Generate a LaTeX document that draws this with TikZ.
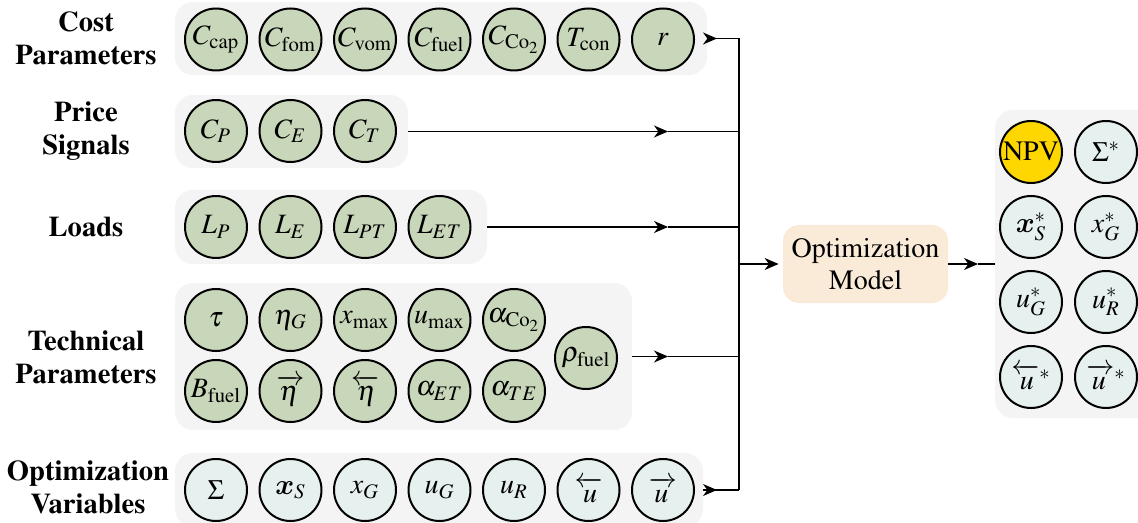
\documentclass[tikz,border=0pt]{standalone}
\usepackage[T1]{fontenc}
\usepackage{amsmath}
\usepackage{mathptmx}
\usetikzlibrary{arrows.meta}
\definecolor{paramgreen}{RGB}{200,214,185}
\definecolor{varblue}{RGB}{230,240,238}
\definecolor{groupgray}{RGB}{244,244,244}
\definecolor{modelorange}{RGB}{249,235,216}
\definecolor{npvgold}{RGB}{255,215,0}
\newcommand{\bxs}{\mbox{\usefont{OML}{cmm}{b}{it}x}}
\newcommand{\rar}[1]{\overrightarrow{\vphantom{t}#1\,}}
\newcommand{\lar}[1]{\overleftarrow{\vphantom{t}\,#1}}
\tikzset{
  groupbox/.style={fill=groupgray,draw=none,rounded corners=9pt,inner sep=0pt},
  pcirc/.style={circle,draw=black,line width=1pt,fill=paramgreen,minimum size=31pt,inner sep=0pt,font=\fontsize{14}{16}\selectfont},
  vcirc/.style={pcirc,fill=varblue},
  gcirc/.style={pcirc,fill=npvgold},
  lab/.style={align=center,font=\bfseries\fontsize{14.3}{16.5}\selectfont,inner sep=0pt},
  modelbox/.style={fill=modelorange,rounded corners=8pt,inner sep=0pt,align=center,font=\fontsize{14}{16}\selectfont},
  conn/.style={line width=0.75pt},
  arr/.style={conn,-{Stealth[length=7pt,width=6pt,inset=2.2pt]}}
}
\begin{document}
\begin{tikzpicture}[x=0.5pt,y=-0.5pt]
\useasboundingbox (0,0) rectangle (1138,523);
\begin{scope}
\clip (0,0) rectangle (1138,523);
% group boxes
\node[groupbox,minimum width=266pt,minimum height=36.5pt] (costbox) at (441,38.5) {};
\node[groupbox,minimum width=116.5pt,minimum height=36.5pt] (pricebox) at (291.5,131.5) {};
\node[groupbox,minimum width=156pt,minimum height=37pt] (loadsbox) at (331,227) {};
\node[groupbox,minimum width=228.5pt,minimum height=73.5pt] (techbox) at (403.5,356.5) {};
\node[groupbox,minimum width=264pt,minimum height=37pt] (optbox) at (439,490) {};
\node[groupbox,minimum width=80pt,minimum height=154pt] (outbox) at (1075,264) {};
\end{scope}

% labels
\node[lab] (costlab) at (86,38.5) {Cost\\Parameters};
\node[lab] (pricelab) at (86,131) {Price\\Signals};
\node[lab] (loadslab) at (86,227) {Loads};
\node[lab] (techlab) at (86,357.5) {Technical\\Parameters};
\node[lab] (optlab) at (88,487.5) {Optimization\\Variables};

% cost parameters
\node[pcirc] (ccap) at (216,39.5) {$C_{\mathrm{cap}}$};
\node[pcirc] (cfom) at (290.5,39.5) {$C_{\mathrm{fom}}$};
\node[pcirc] (cvom) at (365,39.5) {$C_{\mathrm{vom}}$};
\node[pcirc] (cfuel) at (439.5,39.5) {$C_{\mathrm{fuel}}$};
\node[pcirc] (cco) at (514,39.5) {$C_{\mathrm{Co}_2}$};
\node[pcirc] (tcon) at (588.5,39.5) {$T_{\mathrm{con}}$};
\node[pcirc] (rr) at (663,39.5) {$r$};

% price signals
\node[pcirc] (cp) at (216,131) {$C_P$};
\node[pcirc] (ce) at (290.5,131) {$C_E$};
\node[pcirc] (ct) at (365,131) {$C_T$};

% loads
\node[pcirc] (lp) at (216,227) {$L_P$};
\node[pcirc] (le) at (290.5,227) {$L_E$};
\node[pcirc] (lpt) at (365,227) {$L_{PT}$};
\node[pcirc] (let) at (439.5,227) {$L_{ET}$};

% technical parameters
\node[pcirc] (tau) at (216,320) {$\tau$};
\node[pcirc] (etag) at (290.5,320) {$\eta_G$};
\node[pcirc] (xmax) at (365,320) {$x_{\mathrm{max}}$};
\node[pcirc] (umax) at (439.5,320) {$u_{\mathrm{max}}$};
\node[pcirc] (aco) at (514,320) {$\alpha_{\mathrm{Co}_2}$};
\node[pcirc] (bfuel) at (216,391) {$B_{\mathrm{fuel}}$};
\node[pcirc] (etar) at (290.5,391) {$\rar{\eta}$};
\node[pcirc] (etal) at (365,391) {$\lar{\eta}$};
\node[pcirc] (aet) at (439.5,391) {$\alpha_{ET}$};
\node[pcirc] (ate) at (514,391) {$\alpha_{TE}$};
\node[pcirc] (rho) at (586,358) {$\rho_{\mathrm{fuel}}$};

% optimization variables
\node[vcirc] (sig) at (216,490) {$\Sigma$};
\node[vcirc] (xs) at (290.5,490) {$\bxs_S$};
\node[vcirc] (xg) at (365,490) {$x_G$};
\node[vcirc] (ug) at (439.5,490) {$u_G$};
\node[vcirc] (ur) at (514,490) {$u_R$};
\node[vcirc] (ul) at (588.5,490) {$\lar{u}$};
\node[vcirc] (urr) at (663,490) {$\rar{u}$};

% model
\node[modelbox,minimum width=82.5pt,minimum height=39pt] (model) at (865.5,264) {Optimization\\Model};

% outputs
\node[gcirc] (npv) at (1031,152) {NPV};
\node[vcirc] (sigs) at (1106,152) {$\Sigma^*$};
\node[vcirc] (xss) at (1031,227) {$\bxs_S^*$};
\node[vcirc] (xgs) at (1106,227) {$x_G^*$};
\node[vcirc] (ugs) at (1031,302) {$u_G^*$};
\node[vcirc] (urs) at (1106,302) {$u_R^*$};
\node[vcirc] (uls) at (1031,377) {$\lar{u}^*$};
\node[vcirc] (urrs) at (1106,377) {$\rar{u}^*$};

% bus coordinates
\coordinate (b1) at (739,38.5);
\coordinate (b2) at (739,131.5);
\coordinate (b3) at (739,227);
\coordinate (b4) at (739,356.5);
\coordinate (b5) at (739,490);
\coordinate (bm) at (739,264);
\coordinate (t2) at (668,131.5);
\coordinate (t3) at (668,227);
\coordinate (t4) at (668,356.5);
\coordinate (tm) at (978,264);

% connectors
\draw[arr,shorten >=11pt] (costbox.east) -- (b1);
\draw[conn] (costbox.east) -- (b1);
\draw[arr] (pricebox.east) -- (t2);
\draw[conn] (t2) -- (b2);
\draw[arr] (loadsbox.east) -- (t3);
\draw[conn] (t3) -- (b3);
\draw[arr] (techbox.east) -- (t4);
\draw[conn] (t4) -- (b4);
\draw[arr,shorten >=11pt] (optbox.east) -- (b5);
\draw[conn] (optbox.east) -- (b5);
\draw[conn] (b1) -- (b5);
\draw[arr,shorten >=2pt] (bm) -- (model.west);
\draw[arr] (model.east) -- (tm);
\draw[conn] (tm) -- (outbox.west);
\end{tikzpicture}
\end{document}
